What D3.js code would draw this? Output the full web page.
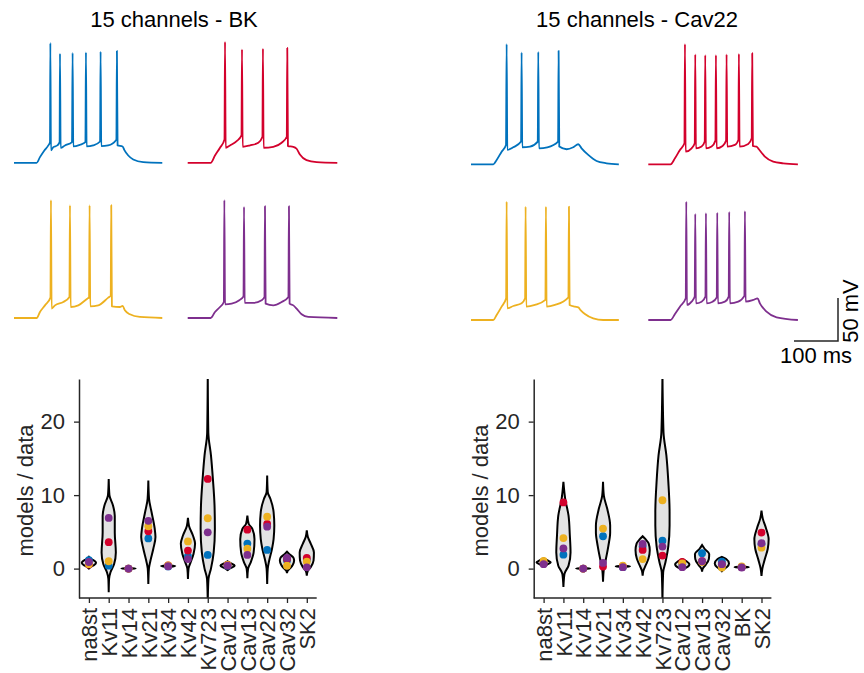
<!DOCTYPE html>
<html>
<head>
<meta charset="utf-8">
<script src="https://cdn.jsdelivr.net/npm/d3@7"></script>
<style>
  body { margin: 0; background: #fff; }
  svg { display: block; font-family: "Liberation Sans", Arial, sans-serif; }
</style>
</head>
<body>
<div id="chart"></div>
<script>
'use strict';

// model colours
const modelColors = ['#0072bd', '#d3012c', '#edb120', '#7e2f8e'];

// voltage traces, [time ms, voltage mV]
const bkBlue = [[0,-86],[51.5,-86],[59,-79.4],[69,-71.6],[78,-65.8],[81.8,-62],[82.6,53.3],[84,-71.6],[89.3,-67.8],[98.5,-65.8],[103.6,-62],[104.5,40.9],[106,-68.5],[115.8,-65.8],[131.8,-62],[133.2,41.7],[134.7,-67],[150,-65],[162.3,-62],[163.5,42.4],[165,-67],[180,-65.8],[195.6,-61.2],[196.8,43.2],[198.3,-66.6],[214,-65.8],[232.7,-59.2],[233.9,44],[235.4,-65.8],[246.8,-67],[250.6,-70.9],[259.7,-77.5],[271,-82.1],[293.7,-85.2],[337,-86]];
const bkRed = [[0,-86],[52.2,-86],[62,-77.5],[73.4,-68.5],[83.6,-58.8],[84.8,54.5],[86.3,-68.5],[96,-65.8],[111.3,-60.8],[122.2,-54.2],[123.4,45.9],[124.9,-67.4],[141.6,-65.8],[160.5,-62.7],[169.8,-55.7],[171,46.7],[172.5,-68.5],[194.5,-67.4],[213.5,-62.7],[225.1,-55.7],[226.3,47.5],[227.8,-66.6],[240,-67.4],[247.5,-69.7],[255,-76.3],[270,-82.9],[293,-85.2],[340,-86]];
const bkYellow = [[0,-86],[51.5,-86],[59,-79],[70.4,-71.3],[82.8,-62.3],[84,51],[85.5,-75.1],[93.1,-71.3],[112,-67.4],[126,-61.6],[127.2,45.1],[128.7,-73.2],[146.1,-71.3],[166.5,-63.5],[170.6,-62],[171.8,45.1],[173.3,-72.4],[191.5,-71.3],[214.2,-62.3],[219.8,-60],[221,45.1],[222.5,-72.4],[240.7,-73.2],[246.8,-72],[252,-77],[263.4,-81.7],[286,-84.8],[337,-86]];
const bkPurple = [[0,-86],[52.2,-86],[62,-79],[73.4,-73.2],[82.1,-67.4],[83.3,51],[84.8,-70.1],[99.9,-69.3],[117.3,-65.4],[126.8,-60.8],[128,43.2],[129.5,-68.5],[149.1,-68.5],[168,-65.4],[174.4,-61.6],[175.6,44],[177.1,-69.3],[194.5,-71.3],[213.5,-67.4],[228.9,-61.6],[230.1,44],[231.6,-69.3],[240,-71.3],[247.5,-75.1],[258.9,-81.7],[274,-84.8],[340,-86]];

const cavBlue = [[0,-86],[50.7,-86],[58.3,-81],[69.6,-71.3],[79.5,-63.5],[81,53.7],[82.5,-69.3],[96.1,-66.2],[113.8,-59.6],[115,44],[116.5,-66.2],[134,-65.4],[151.7,-59.6],[152.9,44.8],[154.4,-67.4],[173.4,-66.2],[197.9,-59.6],[199.1,45.9],[200.6,-65.4],[217.3,-68.5],[232.4,-66.2],[243.8,-62.7],[251.3,-67.4],[266.5,-75.1],[285.4,-82.1],[308.1,-84.8],[336,-86]];
const cavRed = [[0,-86],[50.7,-86],[60.6,-79],[71.9,-69.3],[82.1,-61.6],[83.3,53.7],[84.8,-71.3],[98.4,-67.4],[105.5,-61.6],[106.7,41.7],[108.2,-67.4],[121.1,-65.4],[128.2,-59.6],[129.4,40.9],[130.9,-67.4],[143.8,-65.4],[152.5,-58.5],[153.7,40.9],[155.2,-67.4],[168.8,-64.7],[176.7,-58.5],[177.9,41.7],[179.4,-65.4],[196.8,-63.5],[204.7,-57.7],[205.9,42.4],[207.4,-65.4],[227.1,-62.3],[235,-55.7],[236.2,43.2],[237.7,-64.7],[246,-65.4],[251.3,-68.5],[265,-77],[283.9,-82.9],[306.6,-84.8],[340,-86]];
const cavYellow = [[0,-86],[50.7,-86],[58.3,-80.2],[69.6,-70.5],[79.8,-60.8],[81,51.7],[82.5,-72.4],[96.1,-69.7],[115,-66.6],[122.9,-60.8],[124.1,45.9],[125.6,-70.5],[145.3,-68.5],[169.1,-62.7],[170.3,45.9],[171.8,-70.5],[190.8,-68.5],[221.4,-59.6],[222.6,45.9],[224.1,-68.5],[236.2,-70.5],[243.8,-71.3],[249,-74.4],[258.9,-79],[277.8,-84.1],[300.5,-86],[336,-86]];
const cavPurple = [[0,-86],[50.7,-86],[60.6,-79],[71.9,-70.5],[85.1,-60.8],[86.3,51.7],[87.8,-68.5],[98.4,-64.7],[105.5,-58.8],[106.7,37.4],[108.2,-66.6],[121.1,-64.7],[129.8,-58.8],[131,38.2],[132.5,-66.6],[146.1,-64.7],[155.5,-59.6],[156.7,38.9],[158.2,-66.6],[174.1,-64.7],[182.7,-58.8],[183.9,39.7],[185.4,-66.6],[204.4,-64.7],[218.4,-58],[219.6,40.5],[221.1,-64.7],[238.5,-62.7],[248.3,-60.8],[253.6,-66.6],[268.7,-76.3],[291.5,-82.9],[340,-86]];

// models / data ratios, one value per channel
const bkChannels = ['na8st','Kv11','Kv14','Kv21','Kv34','Kv42','Kv723','Cav12','Cav13','Cav22','Cav32','SK2'];
const bkBlueRatio   = [1.15, 0.4, 0.0, 4.1, 0.3, 1.7, 1.86, 0.4, 3.4, 2.54, 1.1, 1.2];
const bkRedRatio    = [0.55, 3.6, 0.0, 5.08, 0.45, 2.45, 12.2, 0.5, 5.3, 6.08, 1.3, 1.45];
const bkYellowRatio = [0.6, 1.0, 0.0, 5.76, 0.45, 3.7, 6.85, 0.5, 2.7, 7.07, 0.4, 0.95];
const bkPurpleRatio = [0.9, 6.9, 0.0, 6.5, 0.32, 1.3, 4.94, 0.4, 1.86, 5.7, 1.45, 0.18];

const cavChannels = ['na8st','Kv11','Kv14','Kv21','Kv34','Kv42','Kv723','Cav12','Cav13','Cav32','BK','SK2'];
const cavBlueRatio   = [0.8, 1.9, 0.0, 4.4, 0.2, 3.0, 3.8, 0.6, 2.1, 0.95, 0.2, 3.3];
const cavRedRatio    = [0.8, 9.0, 0.0, 0.27, 0.35, 2.54, 1.77, 0.9, 1.0, 0.5, 0.2, 4.9];
const cavYellowRatio = [1.05, 4.15, 0.0, 5.45, 0.4, 1.3, 9.3, 0.7, 0.9, 0.15, 0.3, 2.85];
const cavPurpleRatio = [0.6, 2.75, 0.0, 0.77, 0.2, 3.36, 3.0, 0.2, 1.0, 0.6, 0.15, 3.45];

// violin outlines: [ratio, relative density]
const bkViolins = [
  [[0.0,0],[0.25,0.3],[0.5,0.75],[0.8,1],[1.1,0.7],[1.35,0.25],[1.6,0]],
  [[-3.2,0],[-1.4,0.05],[-0.5,0.25],[0.6,0.75],[2.2,1],[4.9,0.85],[7.2,0.85],[8.6,0.6],[10,0.1],[12.2,0]],
  [[-0.08,0],[0,1],[0.08,0]],
  [[-2.1,0],[0,0.08],[1.1,0.3],[2.7,0.7],[4.3,1],[5.4,0.9],[7.7,0.45],[9.5,0.1],[12,0]],
  [[0.2,0],[0.35,1],[0.5,0]],
  [[-1.4,0],[0,0.08],[0.86,0.38],[2.0,0.78],[3.4,1],[4.5,0.7],[5.8,0.15],[6.9,0]],
  [[-4.5,0],[-1.4,0.1],[0,0.45],[2.2,0.83],[5.4,1],[8.6,0.95],[12.2,0.72],[15.4,0.45],[18.5,0.08],[26.5,0]],
  [[-0.2,0],[0.05,0.4],[0.4,1],[0.75,0.4],[1.0,0]],
  [[-1.3,0],[0,0.1],[0.86,0.47],[2.2,0.88],[4.0,1],[5.4,0.7],[6.1,0.18],[7.2,0]],
  [[-2.1,0],[0,0.08],[1.1,0.28],[2.7,0.68],[4.0,0.9],[5.85,1],[7.7,0.9],[9.5,0.45],[10.4,0.08],[12.65,0]],
  [[-0.6,0],[-0.3,0.1],[0.1,0.5],[0.5,0.8],[1.1,1],[1.5,0.9],[2.0,0.3],[2.3,0]],
  [[-0.95,0],[-0.4,0.1],[0.2,0.55],[1.1,0.95],[2.2,1],[3.4,0.55],[4.3,0.15],[5.2,0]]
];
const cavViolins = [
  [[0.3,0],[0.55,0.5],[0.85,1],[1.15,0.5],[1.4,0]],
  [[-2.5,0],[-0.7,0.15],[0.4,0.72],[2.2,1],[4.5,0.9],[7.2,0.72],[9.5,0.25],[11.8,0]],
  [[-0.08,0],[0,1],[0.08,0]],
  [[-1.8,0],[0,0.12],[1.3,0.4],[3.1,0.75],[4.9,1],[5.85,1],[8.1,0.6],[9.9,0.12],[11.8,0]],
  [[0.22,0],[0.3,1],[0.38,0]],
  [[-0.95,0],[-0.3,0.1],[0.4,0.4],[1.3,0.8],[2.5,1],[3.4,0.85],[4.0,0.4],[4.4,0]],
  [[-4.5,0],[-0.5,0.1],[0.86,0.42],[3.1,0.83],[5.85,1],[7.7,1],[11.7,0.83],[15.4,0.55],[18.5,0.15],[26.5,0]],
  [[-0.1,0],[0.1,0.5],[0.55,1],[1.0,0.6],[1.3,0]],
  [[-0.4,0],[0,0.1],[0.5,0.5],[1.3,0.95],[2.0,1],[2.7,0.35],[3.2,0]],
  [[-0.35,0],[-0.15,0.2],[0.2,0.7],[0.7,1],[1.3,0.6],[1.6,0]],
  [[0.12,0],[0.2,1],[0.28,0]],
  [[-1.0,0],[0,0.12],[1.3,0.47],[2.7,0.88],[4.0,1],[5.6,0.6],[6.8,0.18],[7.9,0]]
];

const ratioTicks = [0, 10, 20];

const width = 864;
const height = 673;
const ink = '#262626';

const svg = d3.select('#chart').append('svg')
  .attr('width', width)
  .attr('height', height);

svg.append('defs').selectAll('clipPath')
  .data([{ id: 'clip-bk', x: 79 }, { id: 'clip-cav', x: 533.7 }])
  .enter().append('clipPath')
    .attr('id', d => d.id)
  .append('rect')
    .attr('x', d => d.x)
    .attr('y', 379)
    .attr('width', 240)
    .attr('height', 219);

function drawTraces(traces, cols, rows) {
  traces.forEach((trace, i) => {
    const x0 = cols[i % 2];
    const base = rows[Math.floor(i / 2)];
    const x = d3.scaleLinear().domain([0, 100]).range([x0, x0 + 44]);
    const y = d3.scaleLinear().domain([-86, -36]).range([base, base - 43]);
    svg.append('path')
      .datum(trace)
      .attr('fill', 'none')
      .attr('stroke', modelColors[i])
      .attr('stroke-width', 1.8)
      .attr('stroke-linejoin', 'round')
      .attr('d', d3.line()
        .x(d => x(d[0]))
        .y(d => y(d[1]))
        .curve(d3.curveMonotoneX));
  });
}

function drawViolins(channels, violins, ratios, left, clipId, title, titleX) {
  const right = left + 237.7;
  const top = 379;
  const bottom = 598;

  const x = d3.scalePoint().domain(channels).range([left, right]).padding(0.5);
  const y = d3.scaleLinear().domain([-4, 25.8]).range([bottom, top]);
  const w = d3.scaleLinear().domain([0, 1]).range([0, x.step() * 0.36]);

  svg.append('text')
    .attr('x', titleX)
    .attr('y', 27)
    .attr('text-anchor', 'middle')
    .attr('font-size', 22)
    .attr('fill', '#000')
    .text(title);

  const plot = svg.append('g').attr('clip-path', `url(#${clipId})`);

  plot.selectAll('path.violin')
    .data(violins)
    .enter().append('path')
      .attr('class', 'violin')
      .attr('fill', '#e3e3e3')
      .attr('stroke', '#000')
      .attr('stroke-width', 2)
      .attr('d', (prof, i) => {
        const cx = x(channels[i]);
        return d3.area()
          .y(d => y(d[0]))
          .x0(d => cx - w(d[1]))
          .x1(d => cx + w(d[1]))
          .curve(d3.curveMonotoneY)(prof);
      });

  ratios.forEach((vals, m) => {
    plot.append('g').selectAll('circle')
      .data(vals)
      .enter().append('circle')
        .attr('cx', (d, i) => x(channels[i]))
        .attr('cy', d => y(d))
        .attr('r', 3.9)
        .attr('fill', modelColors[m]);
  });

  const yAxis = svg.append('g')
    .attr('transform', `translate(${left},0)`)
    .call(d3.axisLeft(y).tickValues(ratioTicks).tickSize(5).tickPadding(9).tickSizeOuter(0));

  const xAxis = svg.append('g')
    .attr('transform', `translate(0,${bottom})`)
    .call(d3.axisBottom(x).tickSize(5).tickSizeOuter(0));

  xAxis.select('.domain').attr('d', `M${left},0H${right}`);

  [yAxis, xAxis].forEach(ax => {
    ax.select('.domain').attr('stroke', ink).attr('stroke-width', 1.5);
    ax.selectAll('.tick line').attr('stroke', ink).attr('stroke-width', 1.3);
    ax.selectAll('text')
      .attr('font-size', 22)
      .attr('font-family', '"Liberation Sans", Arial, sans-serif')
      .attr('fill', ink);
  });

  xAxis.selectAll('.tick text')
    .attr('transform', 'rotate(-90)')
    .attr('text-anchor', 'end')
    .attr('x', -10)
    .attr('y', 0)
    .attr('dy', '0.35em');

  svg.append('text')
    .attr('transform', `translate(${left - 46},${(top + bottom) / 2 + 2}) rotate(-90)`)
    .attr('text-anchor', 'middle')
    .attr('font-size', 22)
    .attr('fill', ink)
    .text('models / data');
}

drawTraces([bkBlue, bkRed, bkYellow, bkPurple], [14, 187.7], [162.8, 318]);
drawTraces([cavBlue, cavRed, cavYellow, cavPurple], [471, 648.3], [164.3, 320]);

drawViolins(bkChannels, bkViolins,
  [bkBlueRatio, bkRedRatio, bkYellowRatio, bkPurpleRatio],
  79, 'clip-bk', '15 channels - BK', 174);
drawViolins(cavChannels, cavViolins,
  [cavBlueRatio, cavRedRatio, cavYellowRatio, cavPurpleRatio],
  533.7, 'clip-cav', '15 channels - Cav22', 637);

// scale bar: 100 ms, 50 mV
{
  const barX = d3.scaleLinear().domain([0, 100]).range([0, 44]);
  const barY = d3.scaleLinear().domain([0, 50]).range([0, 43]);
  const cornerX = 838;
  const cornerY = 341;
  svg.append('path')
    .attr('fill', 'none')
    .attr('stroke', ink)
    .attr('stroke-width', 1.5)
    .attr('d', `M${cornerX - barX(100)},${cornerY}H${cornerX}V${cornerY - barY(50)}`);
  svg.append('text')
    .attr('x', cornerX - barX(100) / 2)
    .attr('y', cornerY + 22)
    .attr('text-anchor', 'middle')
    .attr('font-size', 22)
    .attr('fill', '#000')
    .text('100 ms');
  svg.append('text')
    .attr('transform', `translate(${cornerX + 20},${cornerY - 30}) rotate(-90)`)
    .attr('text-anchor', 'middle')
    .attr('font-size', 22)
    .attr('fill', '#000')
    .text('50 mV');
}
</script>
</body>
</html>
